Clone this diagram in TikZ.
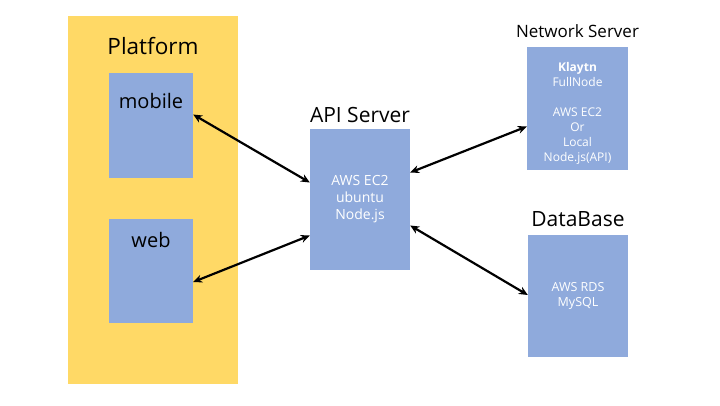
\documentclass[tikz,border=0pt]{standalone}
\usepackage{fontspec}
\setmainfont{Open Sans}
\usetikzlibrary{arrows.meta}
\definecolor{platyellow}{HTML}{FFD966}
\definecolor{boxblue}{HTML}{8FAADC}
\tikzset{
  bluebox/.style={fill=boxblue, draw=none, inner sep=0pt},
  title/.style={font=\fontsize{21}{25}\selectfont, inner sep=0pt},
  boxtext/.style={font=\fontsize{12}{15}\selectfont, text=white, align=center, inner sep=0pt},
  link/.style={{Stealth[length=9pt,width=8pt]}-{Stealth[length=9pt,width=8pt]}, line width=2.2pt, black}
}

\begin{document}
\begin{tikzpicture}[x=1pt,y=-1pt]
        \useasboundingbox (0,0) rectangle (720,405);
        % platform column
        \fill [platyellow] (68,16) rectangle (238,384);
        \node [title, font=\fontsize{22.5}{26}\selectfont] (platform) at (153,46) {Platform};
        \node [bluebox, minimum width=84pt, minimum height=105pt] (mobile) at (151,125.5) {};
        \node [title, font=\fontsize{20}{24}\selectfont] (mobiletext) at (151,101) {mobile};
        \node [bluebox, minimum width=84pt, minimum height=104pt] (web) at (151,271) {};
        \node [title, font=\fontsize{20}{24}\selectfont] (webtext) at (151,240) {web};
        % api server
        \node [title] (apititle) at (360,115) {API Server};
        \node [bluebox, boxtext, font=\fontsize{14}{17}\selectfont, minimum width=100pt, minimum height=141pt] (api) at (360,199.5) {AWS EC2\\ubuntu\\Node.js};
        % network server
        \node [title, font=\fontsize{17}{20}\selectfont] (nettitle) at (577.5,31) {Network Server};
        \node [bluebox, minimum width=101pt, minimum height=123pt] (net) at (577.5,108.5) {};
        \node [boxtext] (nettext) at (577.5,113.5) {\textbf{Klaytn}\\FullNode\\[15pt]AWS EC2\\Or\\Local\\Node.js(API)};
        % database
        \node [title] (dbtitle) at (578,219) {DataBase};
        \node [bluebox, boxtext, font=\fontsize{12.5}{15}\selectfont, minimum width=100pt, minimum height=122pt] (db) at (578,296) {AWS RDS\\MySQL};
        % connections
        \draw [link] ([yshift=11pt]mobile.east) -- ([yshift=17pt]api.west);
        \draw [link] ([yshift=-11pt]web.east) -- ([yshift=-36pt]api.west);
        \draw [link] ([yshift=27pt]api.east) -- ([yshift=-18pt]net.west);
        \draw [link] ([yshift=-26pt]api.east) -- ([yshift=1pt]db.west);
\end{tikzpicture}
\end{document}
